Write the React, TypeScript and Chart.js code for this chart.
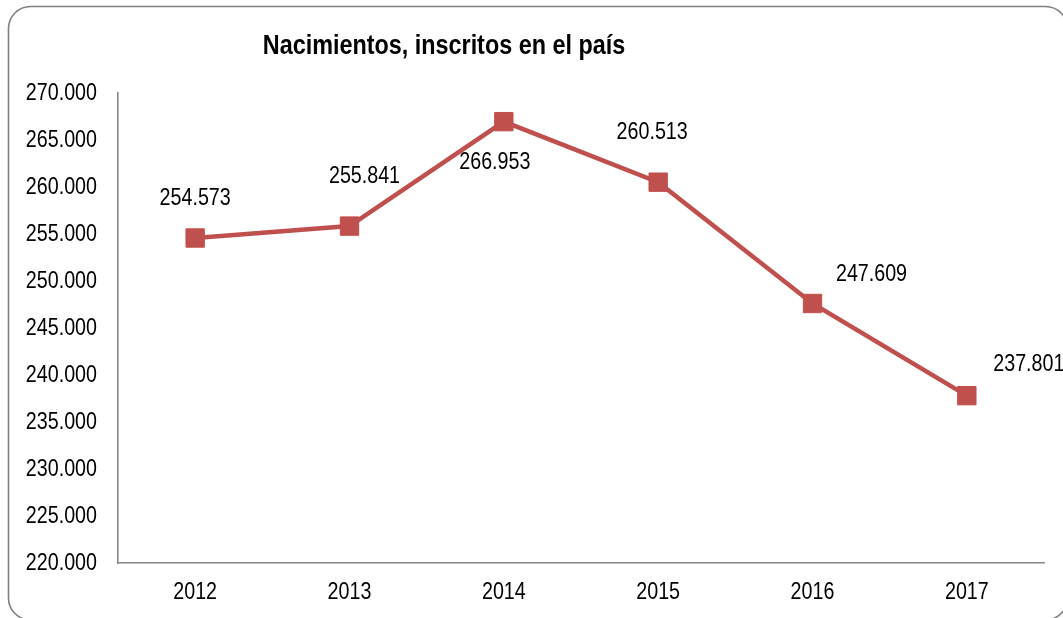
import { useEffect, useRef } from 'react';
import { Chart, registerables } from 'chart.js';

Chart.register(...registerables);

// ---- data ----
const categories: string[] = ['2012', '2013', '2014', '2015', '2016', '2017'];
const births: number[] = [254573, 255841, 266953, 260513, 247609, 237801];
const yMin = 220000;
const yMax = 270000;
const yStep = 5000;
const chartTitle = 'Nacimientos, inscritos en el país';

// label placement relative to each point (style, not data)
const labelOffsets: [number, number][] = [
  [0, -40],
  [15, -50],
  [-9, 41],
  [-6, -50],
  [59, -29],
  [62, -31],
];

const FONT = '"Liberation Sans", Arial, sans-serif';
const NARROW = 0.82; // emulate a narrow face by horizontal scaling
const LINE_COLOR = '#C0504D';
const AXIS_COLOR = '#868686';
const TEXT_SIZE = 24;

const fmt = (n: number) => String(Math.round(n)).replace(/\B(?=(\d{3})+(?!\d))/g, '.');

function narrowText(
  ctx: CanvasRenderingContext2D,
  text: string,
  x: number,
  y: number,
  align: CanvasTextAlign,
  font: string,
) {
  ctx.save();
  ctx.translate(x, y);
  ctx.scale(NARROW, 1);
  ctx.font = font;
  ctx.fillStyle = '#000000';
  ctx.textAlign = align;
  ctx.textBaseline = 'middle';
  ctx.fillText(text, 0, 0);
  ctx.restore();
}

const decorPlugin = {
  id: 'decor',
  beforeDraw(chart: any) {
    const ctx = chart.ctx as CanvasRenderingContext2D;
    ctx.save();
    ctx.fillStyle = '#ffffff';
    ctx.fillRect(0, 0, chart.width, chart.height);
    ctx.strokeStyle = '#808080';
    ctx.lineWidth = 1.6;
    const x = 8.5, y = 6.5, w = 1059, h = 613.5, r = 22;
    ctx.beginPath();
    ctx.moveTo(x + r, y);
    ctx.lineTo(x + w - r, y);
    ctx.arcTo(x + w, y, x + w, y + r, r);
    ctx.lineTo(x + w, y + h - r);
    ctx.arcTo(x + w, y + h, x + w - r, y + h, r);
    ctx.lineTo(x + r, y + h);
    ctx.arcTo(x, y + h, x, y + h - r, r);
    ctx.lineTo(x, y + r);
    ctx.arcTo(x, y, x + r, y, r);
    ctx.closePath();
    ctx.stroke();
    ctx.restore();
  },
  afterDraw(chart: any) {
    const ctx = chart.ctx as CanvasRenderingContext2D;
    const font = `${TEXT_SIZE}px ${FONT}`;
    // title
    narrowText(ctx, chartTitle, 444, 46, 'center', `bold 28.5px ${FONT}`);
    // y tick labels
    const ys = chart.scales.y;
    ys.ticks.forEach((t: any) => {
      narrowText(ctx, fmt(t.value), ys.right - 21, ys.getPixelForValue(t.value), 'right', font);
    });
    // x tick labels
    const xs = chart.scales.x;
    categories.forEach((c, i) => {
      narrowText(ctx, c, xs.getPixelForValue(i), xs.top + 29, 'center', font);
    });
    // data labels
    const meta = chart.getDatasetMeta(0);
    meta.data.forEach((pt: any, i: number) => {
      const [dx, dy] = labelOffsets[i] || [0, -40];
      narrowText(ctx, fmt(births[i]), pt.x + dx, pt.y + dy, 'center', font);
    });
  },
};

export default function App() {
  const canvasRef = useRef<HTMLCanvasElement | null>(null);

  useEffect(() => {
    document.body.style.margin = '0';
    const canvas = canvasRef.current;
    if (!canvas) return;
    const chart = new Chart(canvas, {
      type: 'line',
      data: {
        labels: categories,
        datasets: [
          {
            label: chartTitle,
            data: births,
            borderColor: LINE_COLOR,
            backgroundColor: LINE_COLOR,
            borderWidth: 4.5,
            pointStyle: 'rect',
            pointRadius: 13,
            pointBorderWidth: 1,
            pointBackgroundColor: LINE_COLOR,
            pointBorderColor: LINE_COLOR,
            tension: 0,
          },
        ],
      },
      options: {
        responsive: false,
        animation: false,
        devicePixelRatio: 1,
        layout: { padding: { left: 0, top: 93, right: 19, bottom: 0 } },
        plugins: {
          legend: { display: false },
          title: { display: false },
          tooltip: { enabled: false },
        },
        scales: {
          x: {
            offset: true,
            grid: { display: false, drawTicks: false },
            border: { display: true, color: AXIS_COLOR, width: 1.6 },
            ticks: { display: false, autoSkip: false },
            afterFit(scale: any) {
              scale.height = 55;
            },
          },
          y: {
            min: yMin,
            max: yMax,
            grid: { display: false, drawTicks: false },
            border: { display: true, color: AXIS_COLOR, width: 1.6 },
            ticks: { display: false, stepSize: yStep },
            afterFit(scale: any) {
              scale.width = 118;
            },
          },
        },
      },
      plugins: [decorPlugin],
    });
    return () => chart.destroy();
  }, []);

  return (
    <div style={{ position: 'absolute', left: 0, top: 0, width: 1063, height: 618 }}>
      <canvas ref={canvasRef} width={1063} height={618} style={{ width: 1063, height: 618, display: 'block' }} />
    </div>
  );
}
